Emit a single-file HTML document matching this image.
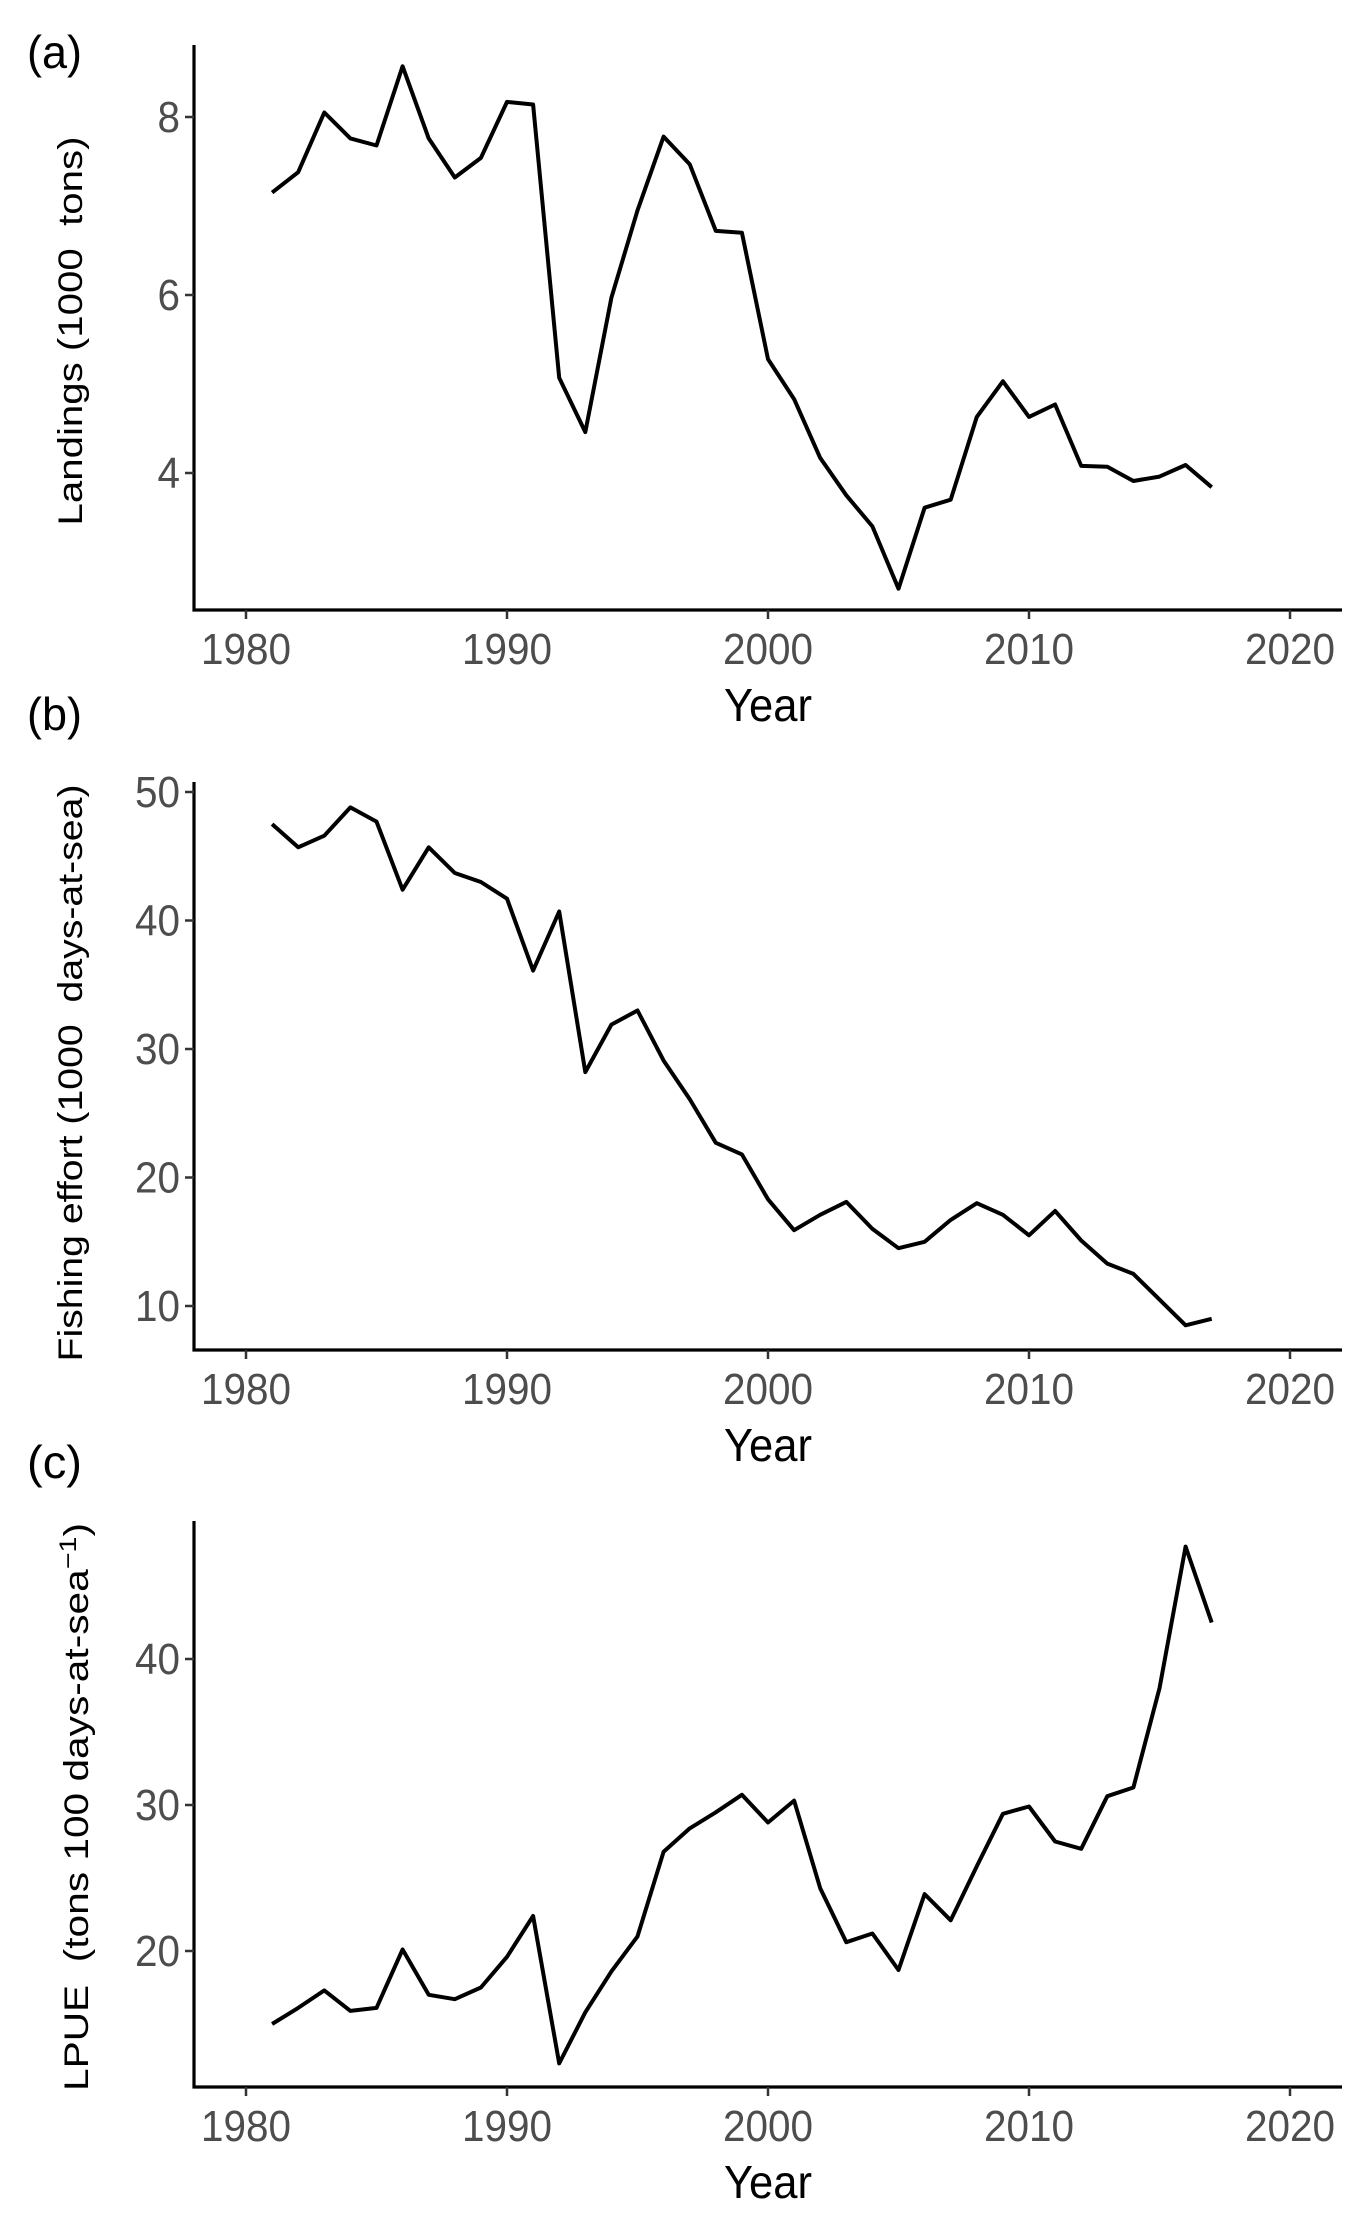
<!DOCTYPE html>
<html><head><meta charset="utf-8"><style>
html,body{margin:0;padding:0;background:#fff;}
svg{display:block;}
text{font-family:"Liberation Sans",sans-serif;white-space:pre;}
</style></head><body>
<svg id="fig" width="1355" height="2230" viewBox="0 0 1355 2230" xmlns="http://www.w3.org/2000/svg" xml:space="preserve"></svg>
<script>
const years = [1981,1982,1983,1984,1985,1986,1987,1988,1989,1990,1991,1992,1993,1994,1995,1996,1997,1998,1999,2000,2001,2002,2003,2004,2005,2006,2007,2008,2009,2010,2011,2012,2013,2014,2015,2016,2017];
const landings = [7.15,7.38,8.05,7.76,7.68,8.57,7.76,7.32,7.54,8.17,8.14,5.07,4.46,5.97,6.95,7.78,7.47,6.72,6.70,5.28,4.83,4.17,3.75,3.40,2.70,3.61,3.70,4.63,5.03,4.63,4.77,4.08,4.07,3.91,3.96,4.09,3.84];
const effort = [47.5,45.7,46.6,48.8,47.7,42.4,45.7,43.7,43.0,41.7,36.1,40.7,28.2,31.9,33.0,29.1,26.1,22.7,21.8,18.3,15.9,17.1,18.1,16.0,14.5,15.0,16.7,18.0,17.1,15.5,17.4,15.1,13.3,12.5,10.5,8.5,9.0];
const lpue = [15.0,16.1,17.3,15.9,16.1,20.1,17.0,16.7,17.5,19.6,22.4,12.3,15.8,18.6,21.0,26.8,28.4,29.5,30.7,28.8,30.3,24.3,20.6,21.2,18.7,23.9,22.1,25.8,29.4,29.9,27.5,27.0,30.6,31.2,38.0,47.7,42.5];
const xTicks = [1980,1990,2000,2010,2020];
const ticksA = [4,6,8];
const ticksB = [10,20,30,40,50];
const ticksC = [20,30,40];

const NS="http://www.w3.org/2000/svg";
const svg=document.getElementById('fig');
function mk(tag,attrs,parent){const e=document.createElementNS(NS,tag);for(const k in attrs)e.setAttribute(k,attrs[k]);(parent||svg).appendChild(e);return e;}

const X0=194, X1=1342;
function xs(y){return 246+(y-1980)*26.1;}

function panel(cfg){
  const g=mk('g',{});
  
  
  const ys=v=>cfg.refPx+(cfg.refVal-v)*cfg.pxPerUnit;
  const lab=mk('text',{x:27,y:cfg.labY,'font-size':46,textLength:55,lengthAdjust:'spacingAndGlyphs',fill:'#000'},g);
  lab.textContent=cfg.letter;
  
  
  const ya=mk('line',{x1:X0,y1:cfg.top,x2:X0,y2:cfg.bottom+1.5,stroke:'#000','stroke-width':3.2},g);
  
  
  const xa=mk('line',{x1:X0-1.5,y1:cfg.bottom,x2:X1,y2:cfg.bottom,stroke:'#000','stroke-width':3.2},g);
  
  
  xTicks.forEach(t=>{
    const x=xs(t);
    mk('line',{x1:x,y1:cfg.bottom,x2:x,y2:cfg.bottom+9,stroke:'#333','stroke-width':2.5},g);
    const tl=mk('text',{x:x,y:cfg.bottom+54,'font-size':44,'text-anchor':'middle',textLength:90,lengthAdjust:'spacingAndGlyphs',fill:'#4d4d4d'},g);
    tl.textContent=t;
    
    
  });
  cfg.yTicks.forEach(t=>{
    const y=ys(t);
    mk('line',{x1:X0-9,y1:y,x2:X0,y2:y,stroke:'#333','stroke-width':2.5},g);
    const s=String(t);
    const tl=mk('text',{x:X0-14,y:y+15,'font-size':44,'text-anchor':'end',textLength:s.length*22.5,lengthAdjust:'spacingAndGlyphs',fill:'#4d4d4d'},g);
    tl.textContent=s;
    
    
  });
  const xt=mk('text',{x:xs(2000),y:cfg.bottom+111,'font-size':46,'text-anchor':'middle',textLength:88,lengthAdjust:'spacingAndGlyphs',fill:'#000'},g);
  xt.textContent='Year';
  
  
  const yt=mk('text',{x:0,y:0,'font-size':34,'text-anchor':'middle',textLength:cfg.titleLen,lengthAdjust:'spacingAndGlyphs',fill:'#000',transform:`translate(${cfg.titleX},${cfg.titleY}) rotate(-90)`},g);
  yt.innerHTML=cfg.title;
  
  
  const pts=years.map((yr,i)=>xs(yr).toFixed(1)+','+ys(cfg.data[i]).toFixed(1)).join(' ');
  const pl=mk('polyline',{points:pts,fill:'none',stroke:'#000','stroke-width':4,'stroke-linejoin':'round'},g);
  
  
}

panel({name:'panel-a-landings',letter:'(a)',labY:68,top:45,bottom:610,refVal:8,refPx:117,pxPerUnit:89,yTicks:ticksA,data:landings,
  title:'Landings (1000  tons)',titleX:82,titleY:331,titleLen:389});
panel({name:'panel-b-effort',letter:'(b)',labY:730,top:782,bottom:1350,refVal:50,refPx:792,pxPerUnit:12.85,yTicks:ticksB,data:effort,
  title:'Fishing effort (1000  days-at-sea)',titleX:82,titleY:1073,titleLen:577});
panel({name:'panel-c-lpue',letter:'(c)',labY:1478,top:1521,bottom:2087,refVal:40,refPx:1659,pxPerUnit:14.6,yTicks:ticksC,data:lpue,
  title:'LPUE  (tons 100 days-at-sea<tspan dy="-12" font-size="24">−1</tspan><tspan dy="12">)</tspan>',titleX:88,titleY:1807,titleLen:568});
</script>
</body></html>
